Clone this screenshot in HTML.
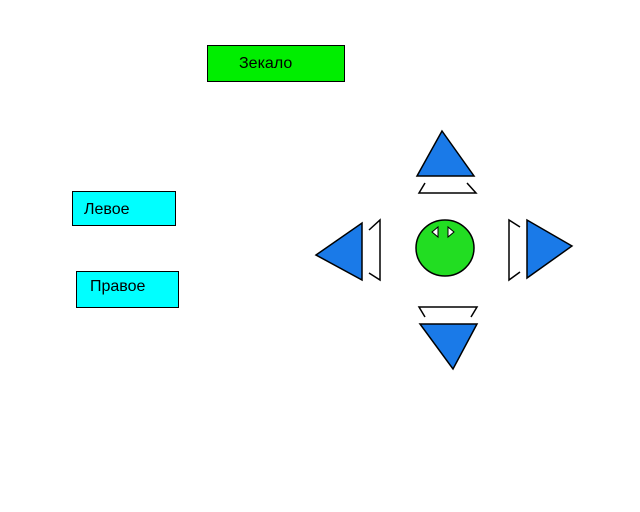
<!DOCTYPE html>
<html><head><meta charset="utf-8"><style>
body{margin:0;background:#fff;width:640px;height:512px;overflow:hidden}
svg{display:block}
text{font-family:"Liberation Sans",sans-serif;font-size:16px;fill:#000}
</style></head><body>
<svg width="640" height="512" viewBox="0 0 640 512">
<rect x="207.5" y="45.5" width="137" height="36" fill="#00ee00" stroke="#000"/>
<text x="239" y="68">Зекало</text>
<rect x="72.5" y="191.5" width="103" height="34" fill="#00ffff" stroke="#000"/>
<text x="84" y="214">Левое</text>
<rect x="76.5" y="271.5" width="102" height="36" fill="#00ffff" stroke="#000"/>
<text x="90" y="291">Правое</text>
<g stroke="#000" stroke-width="1.5" fill="#1a7ae8">
<polygon points="442,131 474,176 417,176"/>
<polygon points="316,255 362,223 362,280"/>
<polygon points="572,246 527,220 527,278"/>
<polygon points="420,324 477,324 453,369"/>
</g>
<g stroke="#000" stroke-width="1.5" fill="none">
<polyline points="425,183 419,193 476,193 467,183"/>
<polyline points="369,230 380,220 380,280 369,273"/>
<polyline points="520,227 509,220 509,280 520,272"/>
<polyline points="425,317 419,307 477,307 471,317"/>
</g>
<ellipse cx="445" cy="248" rx="29" ry="28" fill="#22dd22" stroke="#000" stroke-width="1.5"/>
<polygon points="432,232 438,227 438,237" fill="#fff" stroke="#000"/>
<polygon points="454,232 448,227 448,237" fill="#fff" stroke="#000"/>
</svg>
</body></html>
